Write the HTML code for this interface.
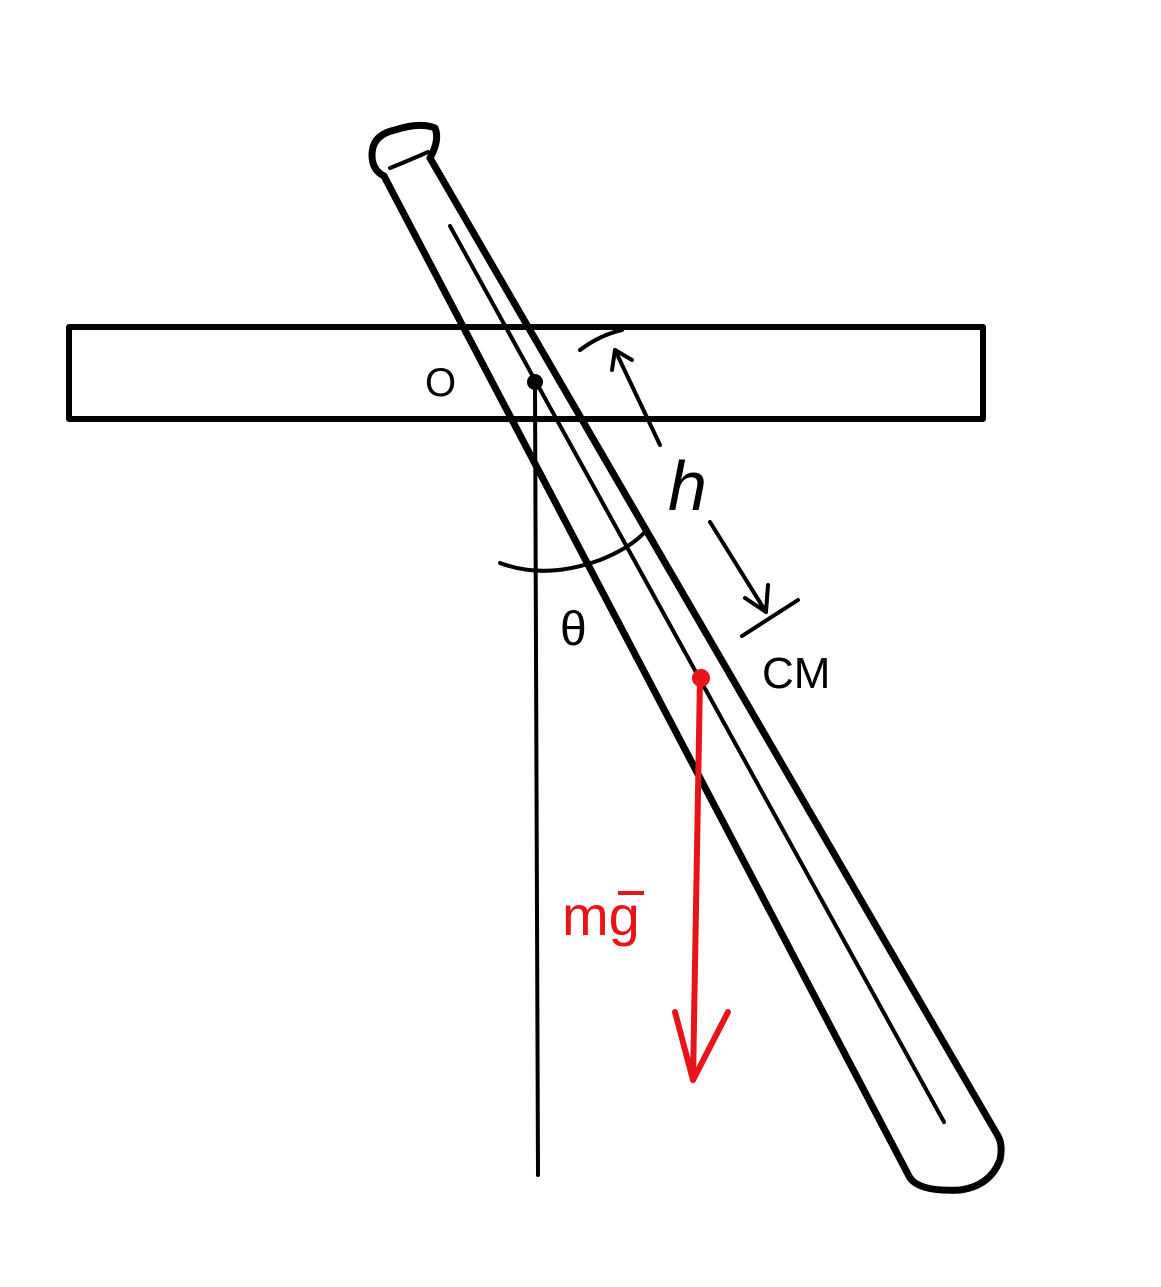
<!DOCTYPE html>
<html><head><meta charset="utf-8"><style>
html,body{margin:0;padding:0;background:#fff;}
svg{display:block;}
text{font-family:"Liberation Sans",sans-serif;}
</style></head><body>
<svg width="1161" height="1287" viewBox="0 0 1161 1287">
<rect x="0" y="0" width="1161" height="1287" fill="#fff"/>
<g fill="none" stroke="#000" stroke-width="6" stroke-linecap="round" stroke-linejoin="round">
  <rect x="69" y="327" width="914" height="92" fill="#fff"/>
  <g stroke-width="7">
    <path d="M384,176 L910,1178" fill="none"/>
    <path d="M430,158 L998,1136"/>
    <path d="M910,1178 Q920,1192 960,1190 Q990,1186 1000,1160 Q1003,1145 998,1136"/>
    <path d="M384,176 Q372,170 372,155 Q372,135 395,130 Q420,122 435,128 Q440,140 430,158"/>
    <path d="M390,168 Q410,160 428,152" stroke-width="4"/>
    <path d="M450,226 L944,1122" stroke-width="4"/>
  </g>
  <line x1="535" y1="388" x2="538" y2="1175" stroke-width="4"/>
  <path d="M500,563 Q545,580 600,560 Q630,548 645,532" stroke-width="4"/>
  <g stroke-width="4">
    <path d="M580,350 Q600,335 622,330"/>
    <path d="M660,445 L615,350"/>
    <path d="M612,370 L615,350 L632,360"/>
    <path d="M710,522 L766,612"/>
    <path d="M745,598 L766,612 L768,585"/>
    <path d="M742,636 L798,600"/>
  </g>
</g>
<circle cx="535" cy="382" r="8" fill="#000"/>
<text x="425" y="396" font-size="40" fill="#000">O</text>
<text x="560" y="645" font-size="48" fill="#000">θ</text>
<text x="668" y="510" font-size="70" font-style="italic" fill="#000">h</text>
<text x="762" y="688" font-size="44" fill="#000">CM</text>
<g stroke="#e8141a" fill="none" stroke-width="6" stroke-linecap="round" stroke-linejoin="round">
  <line x1="700" y1="678" x2="693" y2="1080"/>
  <path d="M675,1012 L693,1080 L728,1012"/>
</g>
<circle cx="701" cy="678" r="9" fill="#e8141a"/>
<text x="562" y="935" font-size="56" fill="#e8141a">mg</text>
<line x1="618" y1="893" x2="644" y2="893" stroke="#e8141a" stroke-width="4"/>
</svg>
</body></html>
